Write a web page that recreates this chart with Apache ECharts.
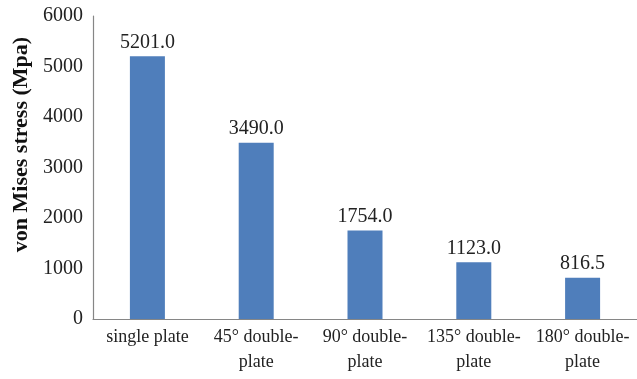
<!DOCTYPE html>
<html>
<head>
<meta charset="utf-8">
<script src="https://cdn.jsdelivr.net/npm/echarts@6/dist/echarts.min.js"></script>
<style>
  html, body { margin: 0; padding: 0; background: #fff; }
  #chart { width: 637px; height: 379px; }
</style>
</head>
<body>
<div id="chart"></div>
<script>
// Peak von Mises stress for each plate configuration
const categories = ['single plate', '45° double-\nplate', '90° double-\nplate', '135° double-\nplate', '180° double-\nplate'];
const stressValues = [5201.0, 3490.0, 1754.0, 1123.0, 816.5];
const yTicks = { min: 0, max: 6000, interval: 1000 };

const serif = '"Liberation Serif", "DejaVu Serif", serif';
const chart = echarts.init(document.getElementById('chart'), null, { renderer: 'canvas' });

chart.setOption({
  animation: false,
  grid: { left: 93, top: 16, width: 553, height: 303, containLabel: false },
  xAxis: {
    type: 'category',
    data: categories,
    axisLine: { lineStyle: { color: '#868686', width: 1.2 } },
    axisTick: { show: false },
    axisLabel: {
      interval: 0,
      margin: 6,
      fontFamily: serif,
      fontSize: 18,
      lineHeight: 25,
      color: '#222'
    }
  },
  yAxis: {
    type: 'value',
    min: yTicks.min,
    max: yTicks.max,
    interval: yTicks.interval,
    name: 'von Mises stress (Mpa)',
    nameLocation: 'middle',
    nameGap: 59,
    nameTextStyle: {
      fontFamily: serif, fontSize: 22, fontWeight: 'bold', color: '#111',
      padding: [0, 0, 0, 46]
    },
    axisLine: { show: true, lineStyle: { color: '#868686', width: 1.2 } },
    axisTick: { show: false },
    splitLine: { show: false },
    axisLabel: {
      margin: 10, fontFamily: serif, fontSize: 20, color: '#222',
      formatter: v => String(v)
    }
  },
  series: [{
    type: 'bar',
    data: stressValues,
    barWidth: 35,
    itemStyle: { color: '#4F7EBB' },
    label: {
      show: true,
      position: 'top',
      distance: 4,
      fontFamily: serif,
      fontSize: 20,
      color: '#222',
      formatter: p => p.value.toFixed(1)
    }
  }]
});
</script>
</body>
</html>
